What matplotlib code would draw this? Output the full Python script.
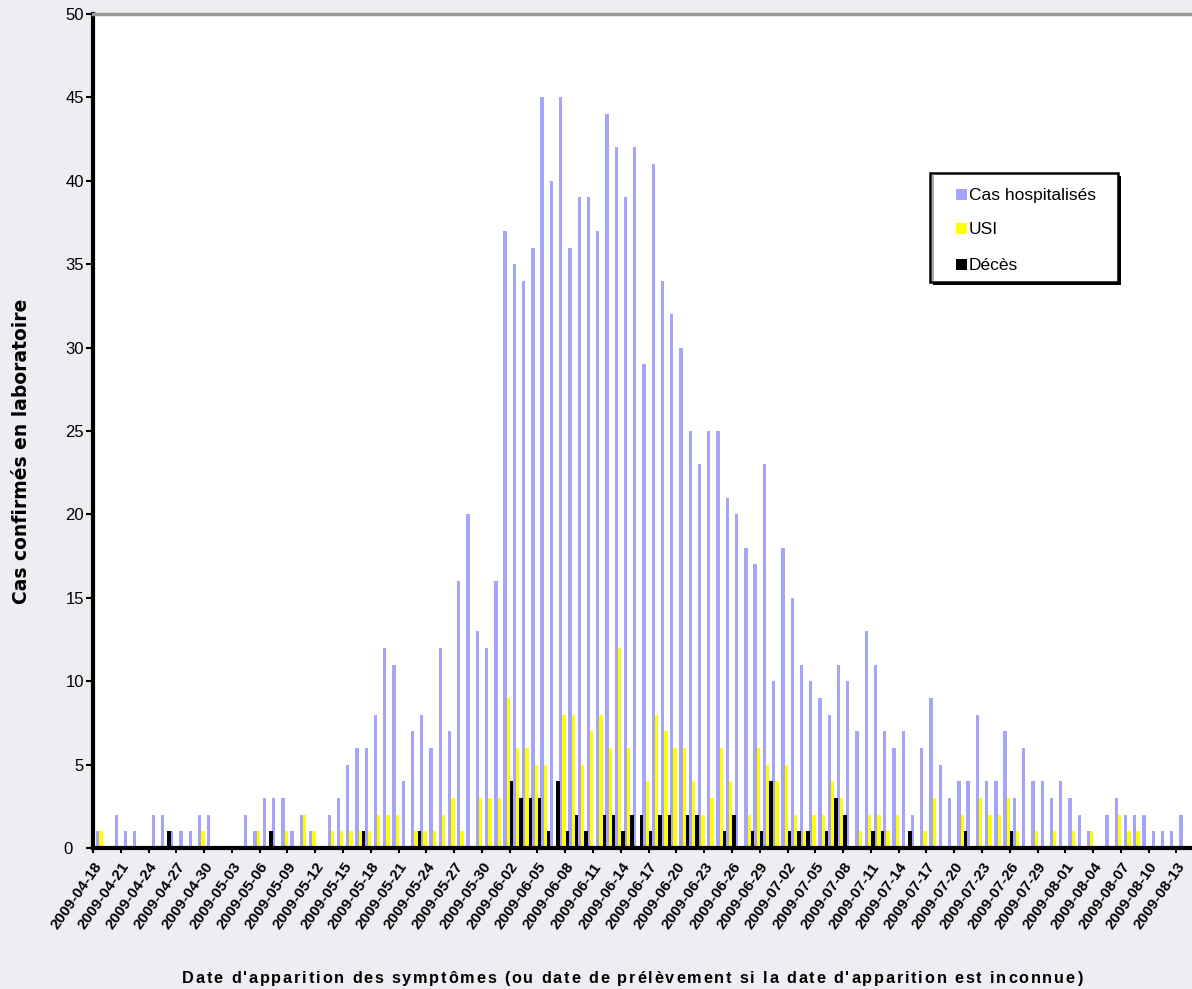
import matplotlib
matplotlib.use("Agg")
import matplotlib.pyplot as plt
import numpy as np
import datetime as dt
from matplotlib.patches import Rectangle
from matplotlib.font_manager import FontProperties
from matplotlib.transforms import ScaledTranslation

# ---------------- data ----------------
hospitalises = [1, 0, 2, 1, 1, 0, 2, 2, 1, 1, 1, 2, 2, 0, 0, 0, 2, 1, 3, 3,
                3, 1, 2, 1, 0, 2, 3, 5, 6, 6, 8, 12, 11, 4, 7, 8, 6, 12, 7, 16,
                20, 13, 12, 16, 37, 35, 34, 36, 45, 40, 45, 36, 39, 39, 37, 44, 42, 39, 42, 29,
                41, 34, 32, 30, 25, 23, 25, 25, 21, 20, 18, 17, 23, 10, 18, 15, 11, 10, 9, 8,
                11, 10, 7, 13, 11, 7, 6, 7, 2, 6, 9, 5, 3, 4, 4, 8, 4, 4, 7, 3,
                6, 4, 4, 3, 4, 3, 2, 1, 0, 2, 3, 2, 2, 2, 1, 1, 1, 2, 0]
usi = [1, 0, 0, 0, 0, 0, 0, 0, 0, 0, 0, 1, 0, 0, 0, 0, 0, 1, 0, 0,
       1, 0, 2, 1, 0, 1, 1, 1, 1, 1, 2, 2, 2, 0, 1, 1, 1, 2, 3, 1,
       0, 3, 3, 3, 9, 6, 6, 5, 5, 0, 8, 8, 5, 7, 8, 6, 12, 6, 0, 4,
       8, 7, 6, 6, 4, 2, 3, 6, 4, 0, 2, 6, 5, 4, 5, 2, 1, 2, 2, 4,
       3, 0, 1, 2, 2, 1, 2, 0, 0, 1, 3, 0, 0, 2, 0, 3, 2, 2, 3, 1,
       0, 1, 0, 1, 0, 1, 0, 1, 0, 0, 2, 1, 1, 0, 0, 0, 0, 0, 0]
deces = [0, 0, 0, 0, 0, 0, 0, 1, 0, 0, 0, 0, 0, 0, 0, 0, 0, 0, 1, 0,
         0, 0, 0, 0, 0, 0, 0, 0, 1, 0, 0, 0, 0, 0, 1, 0, 0, 0, 0, 0,
         0, 0, 0, 0, 4, 3, 3, 3, 1, 4, 1, 2, 1, 0, 2, 2, 1, 2, 2, 1,
         2, 2, 0, 2, 2, 0, 0, 1, 2, 0, 1, 1, 4, 0, 1, 1, 1, 0, 1, 3,
         2, 0, 0, 1, 1, 0, 0, 1, 0, 0, 0, 0, 0, 1, 0, 0, 0, 0, 1, 0,
         0, 0, 0, 0, 0, 0, 0, 0, 0, 0, 0, 0, 0, 0, 0, 0, 0, 0, 0]
start_date = dt.date(2009, 4, 18)
dates = [(start_date + dt.timedelta(days=i)).strftime("%Y-%m-%d") for i in range(len(hospitalises))]
series_names = ["Cas hospitalisés", "USI", "Décès"]
colors = ["#a4a4fa", "#ffff00", "#000000"]
yticks = list(range(0, 51, 5))
xlabel = "Date d'apparition des symptômes (ou date de prélèvement si la date d'apparition est inconnue)"
ylabel = "Cas confirmés en laboratoire"

# ---------------- figure ----------------
W, H = 1192, 989
fig = plt.figure(figsize=(W / 100, H / 100), dpi=100)
fig.patch.set_facecolor("#eceef2")

def fx(px):
    return px / W

def fy(py):
    return 1 - py / H

x0_px, x1_px, ytop_px, ybot_px = 93, 1192, 14, 848
ax = fig.add_axes([fx(x0_px), fy(ybot_px), (x1_px - x0_px) / W, (ybot_px - ytop_px) / H])
ax.set_facecolor("white")

n = len(hospitalises)
x = np.arange(n)
bw = 0.36
for k, (vals, c) in enumerate(zip([hospitalises, usi, deces], colors)):
    ax.bar(x + k * bw, vals, width=bw, align="edge", color=c, linewidth=0)

pitch = 9.26
xmin = (x0_px - 96) / pitch
xmax = (x1_px - 96) / pitch
ax.set_xlim(xmin, xmax)
ax.set_ylim(0, 50)

tick_pos = [xmin + 3 * k for k in range(0, 40)]
ax.set_xticks(tick_pos)
ax.set_xticklabels([dates[3 * k] for k in range(0, 40)], rotation=55, ha="right",
                   rotation_mode="anchor", fontsize=11, fontweight="bold",
                   family="Liberation Sans")
ax.set_yticks(yticks)
ax.set_yticklabels([str(v) for v in yticks], fontsize=12, family="Liberation Sans")
ax.tick_params(axis="y", direction="out", length=5, width=1.5, pad=1.5)
ax.tick_params(axis="x", direction="out", length=3.6, width=1.5, pad=5)
# the "0" label sits a little further left in the reference
lab0 = ax.get_yticklabels()[0]
lab0.set_transform(lab0.get_transform() + ScaledTranslation(-0.11, 0, fig.dpi_scale_trans))

for side in ["left", "bottom"]:
    ax.spines[side].set_linewidth(3.0)
    ax.spines[side].set_color("black")
ax.spines["top"].set_color("#9a9a9a")
ax.spines["top"].set_linewidth(2.5)
ax.spines["right"].set_visible(False)

ax.set_ylabel(ylabel, fontsize=13.5, fontweight="bold", family="DejaVu Sans")
ax.yaxis.set_label_coords(-(x0_px - 31) / (x1_px - x0_px), (ybot_px - 451) / (ybot_px - ytop_px))

# x label, slightly letter-spaced as in the reference (spans x 182..1082)
fp = FontProperties(family="Liberation Sans", weight="bold", size=11.7)
renderer = fig.canvas.get_renderer()

def text_w(s):
    return renderer.get_text_width_height_descent(s, fp, ismath=False)[0]

bar_w = text_w("|")
pos = [text_w(xlabel[:i] + "|") - bar_w if i > 0 else 0.0 for i in range(len(xlabel))]
natural = text_w(xlabel)
target_w = 1082 - 182
extra = max(0.0, (target_w - natural) / (len(xlabel) - 1))
start = 632 - (natural + extra * (len(xlabel) - 1)) / 2
for i, ch in enumerate(xlabel):
    if ch == " ":
        continue
    fig.text(fx(start + pos[i] + i * extra), fy(983), ch, ha="left", va="baseline", fontproperties=fp)

# legend, drawn by hand to match the box geometry
lx0, ly0, lx1, ly1 = 930, 173, 1118, 282
fig.patches.append(Rectangle((fx(lx0 + 3), fy(ly1 + 3)), (lx1 - lx0) / W, (ly1 - ly0) / H,
                             transform=fig.transFigure, facecolor="black", edgecolor="none", zorder=5))
fig.patches.append(Rectangle((fx(lx0), fy(ly1)), (lx1 - lx0) / W, (ly1 - ly0) / H,
                             transform=fig.transFigure, facecolor="white", edgecolor="black",
                             linewidth=1.8, zorder=6))
fig.lines.append(plt.Line2D([fx(lx0 + 3), fx(lx0 + 3)], [fy(ly0 + 2), fy(ly1 - 2)],
                            transform=fig.transFigure, color="#9a9a9a", linewidth=1.2, zorder=7))
entry_y = [194.5, 228, 264.5]
for name, c, ey in zip(series_names, colors, entry_y):
    fig.patches.append(Rectangle((fx(956), fy(ey + 5.5)), 11 / W, 11 / H, transform=fig.transFigure,
                                 facecolor=c, edgecolor="none", zorder=7))
    fig.text(fx(969), fy(ey + 5.5), name, ha="left", va="baseline", zorder=8,
             family="Liberation Sans", fontsize=12.5)

fig.savefig("out.png", dpi=100, facecolor=fig.get_facecolor())
